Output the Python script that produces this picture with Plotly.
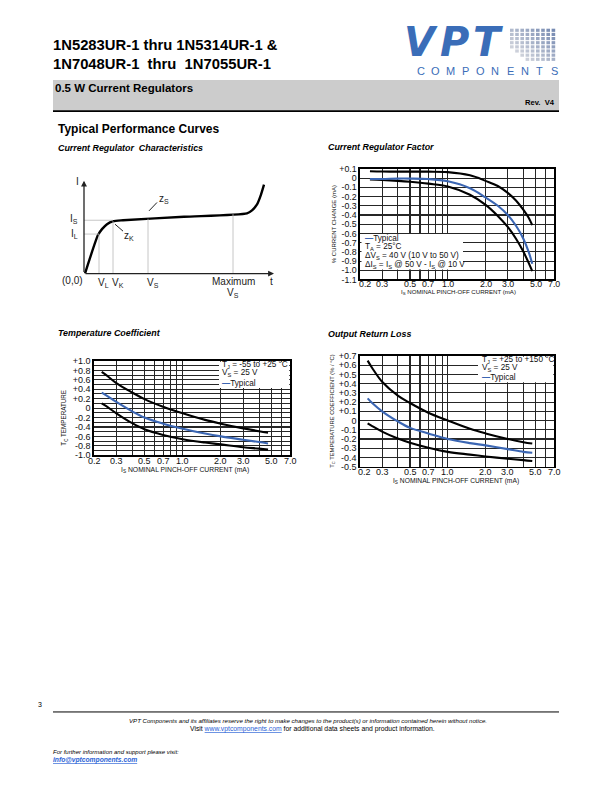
import math
import plotly.graph_objects as go

W, H = 612, 792


def X(p):
    return p / W


def Y(p):
    return 1 - p / H


# ---------------- data ----------------
# Current Regulator Characteristics (schematic I-V curve, diagram units)
char_v = [1, 14, 18, 23, 29, 39, 100, 163, 168, 173, 177, 180]
char_i = [0, 39, 45, 50, 53, 54, 57.5, 61, 64, 70, 80, 90]
char_mark_v = [15, 29, 64, 149]          # V_L, V_K, V_S, Maximum V_S
char_mark_i = [40, 53, 55.5, 60.2]       # curve current reached at those voltages
char_level_i = [54, 40]                  # I_S, I_L
char_level_v = [29, 15]                  # voltage where each level meets the curve

# Current Regulator Factor
crf_is = [0.24, 0.3, 0.4, 0.5, 0.7, 1.0, 1.5, 2.0, 2.5, 3.0, 3.5, 4.0, 4.4, 4.7]
crf_upper = [0.075, 0.072, 0.07, 0.07, 0.07, 0.065, 0.03, -0.03, -0.085, -0.16, -0.245, -0.345, -0.43, -0.51]
crf_typ = [-0.01, -0.01, -0.005, -0.005, -0.01, -0.035, -0.11, -0.21, -0.30, -0.40, -0.52, -0.66, -0.80, -0.93]
crf_lower = [-0.015, -0.02, -0.03, -0.04, -0.06, -0.09, -0.18, -0.29, -0.41, -0.53, -0.66, -0.80, -0.92, -1.01]

# Temperature Coefficient
tc_is = [0.23, 0.25, 0.3, 0.4, 0.5, 0.7, 1.0, 1.5, 2.0, 3.0, 4.0, 4.7]
tc_upper = [0.77, 0.70, 0.53, 0.33, 0.19, 0.03, -0.11, -0.25, -0.33, -0.43, -0.49, -0.52]
tc_typ = [0.33, 0.27, 0.13, -0.07, -0.20, -0.33, -0.44, -0.54, -0.60, -0.67, -0.72, -0.75]
tc_lower = [0.10, 0.04, -0.11, -0.32, -0.45, -0.57, -0.66, -0.73, -0.77, -0.83, -0.86, -0.88]

# Output Return Loss
orl_is = [0.23, 0.25, 0.3, 0.4, 0.5, 0.7, 1.0, 1.5, 2.0, 3.0, 4.0, 4.7]
orl_upper = [0.65, 0.57, 0.42, 0.27, 0.19, 0.085, 0.0, -0.09, -0.14, -0.20, -0.235, -0.25]
orl_typ = [0.24, 0.19, 0.10, -0.01, -0.08, -0.14, -0.20, -0.245, -0.27, -0.31, -0.34, -0.35]
orl_lower = [-0.03, -0.06, -0.12, -0.195, -0.24, -0.295, -0.34, -0.37, -0.39, -0.415, -0.43, -0.44]

# axis ticks
x_major = [0.2, 0.3, 0.5, 0.7, 1.0, 2.0, 3.0, 5.0, 7.0]
x_major_text = ["0.2", "0.3", "0.5", "0.7", "1.0", "2.0", "3.0", "5.0", "7.0"]
x_minor = [0.4, 0.6, 0.8, 0.9, 4.0, 6.0]
crf_ticks = [0.1, 0.0, -0.1, -0.2, -0.3, -0.4, -0.5, -0.6, -0.7, -0.8, -0.9, -1.0, -1.1]
crf_ticktext = ["+0.1", "0", "-0.1", "-0.2", "-0.3", "-0.4", "-0.5", "-0.6", "-0.7", "-0.8", "-0.9", "-1.0", "-1.1"]
tc_ticks = [1.0, 0.8, 0.6, 0.4, 0.2, 0.0, -0.2, -0.4, -0.6, -0.8, -1.0]
tc_ticktext = ["+1.0", "+0.8", "+0.6", "+0.4", "+0.2", "0", "-0.2", "-0.4", "-0.6", "-0.8", "-1.0"]
tc_minor = [0.9, 0.7, 0.5, 0.3, 0.1, -0.1, -0.3, -0.5, -0.7, -0.9]
orl_ticks = [0.7, 0.6, 0.5, 0.4, 0.3, 0.2, 0.1, 0.0, -0.1, -0.2, -0.3, -0.4, -0.5]
orl_ticktext = ["+0.7", "+0.6", "+0.5", "+0.4", "+0.3", "+0.2", "+0.1", "0", "-0.1", "-0.2", "-0.3", "-0.4", "-0.5"]

# ---------------- style ----------------
BLUE = "#3b66b3"
LOGO_BLUE = "#3a6db8"
GRID = "#262626"
SANS = "Liberation Sans, Arial, sans-serif"
TXT = "#111111"
NB = "\u00a0"

fig = go.Figure()

# ---- chart 1: schematic ----
fig.add_trace(go.Scatter(x=char_v, y=char_i, mode="lines", line=dict(color="black", width=2.4, shape="spline", smoothing=0.6),
                         xaxis="x", yaxis="y", hoverinfo="skip"))
for v, i in zip(char_mark_v, char_mark_i):
    fig.add_trace(go.Scatter(x=[v, v], y=[0, i], mode="lines", line=dict(color="#b8b8b8", width=0.8),
                             xaxis="x", yaxis="y", hoverinfo="skip"))
for i, v in zip(char_level_i, char_level_v):
    fig.add_trace(go.Scatter(x=[0, v], y=[i, i], mode="lines", line=dict(color="#b8b8b8", width=0.8),
                             xaxis="x", yaxis="y", hoverinfo="skip"))


# ---- chart 2..4 traces ----
def add_curves(xs, ups, typ, lows, xa, ya):
    for ys, col in ((ups, "black"), (lows, "black"), (typ, BLUE)):
        fig.add_trace(go.Scatter(x=xs, y=ys, mode="lines", line=dict(color=col, width=2.1, shape="spline"),
                                 xaxis=xa, yaxis=ya, hoverinfo="skip"))


add_curves(crf_is, crf_upper, crf_typ, crf_lower, "x2", "y2")
add_curves(tc_is, tc_upper, tc_typ, tc_lower, "x3", "y3")
add_curves(orl_is, orl_upper, orl_typ, orl_lower, "x4", "y4")


def log_xaxis(l, r, anchor):
    # every vertical grid line is drawn as a minor grid line; labels are placed separately
    return dict(domain=[X(l), X(r)], anchor=anchor, type="log",
                range=[math.log10(0.2), math.log10(7.0)],
                tickmode="array", tickvals=[], showticklabels=False, showgrid=False,
                minor=dict(tickvals=sorted(x_major + x_minor), showgrid=True, gridcolor=GRID, gridwidth=1.1, ticks=""),
                showline=True, mirror=True, linecolor="black", linewidth=1.6,
                ticks="", zeroline=False, fixedrange=True)


def lin_yaxis(t, b, anchor, lo, hi, tv, tt, size, minor=None):
    d = dict(domain=[Y(b), Y(t)], anchor=anchor, range=[lo, hi],
             tickmode="array", tickvals=tv, ticktext=tt,
             showgrid=True, gridcolor=GRID, gridwidth=1.1,
             showline=True, mirror=True, linecolor="black", linewidth=1.6,
             ticks="", zeroline=False, tickfont=dict(family=SANS, size=size, color=TXT),
             fixedrange=True)
    if minor:
        d["minor"] = dict(tickvals=minor, showgrid=True, gridcolor=GRID, gridwidth=1.1, ticks="")
    return d


layout = dict(
    width=W, height=H, margin=dict(l=0, r=0, t=0, b=0),
    paper_bgcolor="white", plot_bgcolor="white", showlegend=False,
    xaxis=dict(domain=[X(84), X(274)], range=[0, 190], visible=False, showticklabels=False,
               tickvals=[], fixedrange=True, anchor="y"),
    yaxis=dict(domain=[Y(272), Y(178)], range=[0, 94], visible=False, showticklabels=False,
               tickvals=[], fixedrange=True, anchor="x"),
    xaxis2=log_xaxis(360, 554, "y2"),
    yaxis2=lin_yaxis(166, 278, "x2", -1.1, 0.1, crf_ticks, crf_ticktext, 8.8),
    xaxis3=log_xaxis(94, 290, "y3"),
    yaxis3=lin_yaxis(360.5, 456, "x3", -1.0, 1.0, tc_ticks, tc_ticktext, 9, tc_minor),
    xaxis4=log_xaxis(360, 554, "y4"),
    yaxis4=lin_yaxis(355.5, 467.5, "x4", -0.5, 0.7, orl_ticks, orl_ticktext, 9),
)
fig.update_layout(**layout)

ann = []
shapes = []


def txt(x, y, s, size, xanchor="left", family=SANS, color=TXT, angle=0, yanchor="middle"):
    if xanchor == "left":
        x -= 2
    ann.append(dict(x=X(x), y=Y(y), xref="paper", yref="paper", text=s, showarrow=False,
                    xanchor=xanchor, yanchor=yanchor, textangle=angle,
                    font=dict(family=family, size=size, color=color)))


def rect(x0, y0, x1, y1, fill, layer="above", line=0, lc="black"):
    shapes.append(dict(type="rect", xref="paper", yref="paper", x0=X(x0), x1=X(x1), y0=Y(y1), y1=Y(y0),
                       fillcolor=fill, line=dict(width=line, color=lc), layer=layer))


def hline(x0, x1, y, w=1, c="black"):
    shapes.append(dict(type="line", xref="paper", yref="paper", x0=X(x0), x1=X(x1), y0=Y(y), y1=Y(y),
                       line=dict(width=w, color=c)))


# x tick labels placed through each log axis
def xticklabels(xref, y, size, first_shift=0):
    for k, (v, s) in enumerate(zip(x_major, x_major_text)):
        ann.append(dict(x=math.log10(v), y=Y(y), xref=xref, yref="paper", text=s, showarrow=False,
                        xanchor="center", yanchor="middle", xshift=first_shift if k == 0 else 0,
                        font=dict(family=SANS, size=size, color=TXT)))


xticklabels("x2", 282.5, 8.8, 5)
xticklabels("x3", 461.8, 9)
xticklabels("x4", 473.2, 9, 4)

# ---- header ----
txt(53, 41, "<b>1N5283UR-1 thru 1N5314UR-1 &amp;</b>", 14.8, color="black")
txt(53, 60, "<b>1N7048UR-1" + NB + NB + "thru" + NB + NB + "1N7055UR-1</b>", 14.8, color="black")
rect(53, 76, 559, 107, "#cccccc", layer="below")
hline(53, 559, 107.5, 1.6)
txt(55, 84, "<b>0.5 W Current Regulators</b>", 11.5, color="black")
txt(557, 99, "<b>Rev." + NB + NB + "V4</b>", 7.6, xanchor="right", color="black")

# logo
for ch, cx in zip("VPT", [421, 454, 488]):
    txt(cx, 37.5, "<b><i>%s</i></b>" % ch, 40, xanchor="center", family="DejaVu Sans, sans-serif", color=LOGO_BLUE)
cols, rows = 9, 8
for r in range(rows):
    for c in range(cols):
        t = 0.55 * (c / (cols - 1)) + 0.45 * (1 - r / (rows - 1))
        if c < 3 and r > 4 + c:
            continue
        lo = (226, 226, 228)
        hi = (118, 138, 178)
        col = "rgb(%d,%d,%d)" % tuple(int(lo[k] + (hi[k] - lo[k]) * t) for k in range(3))
        x0 = 510 + c * 5.2
        y0 = 24 + r * 4.2
        rect(x0, y0, x0 + 3.6, y0 + 3.2, col, layer="below")
for k, ch in enumerate("COMPONENTS"):
    txt(421 + k * 14.85, 67, ch, 11, xanchor="center", family=SANS, color=LOGO_BLUE)

txt(58, 126, "<b>Typical Performance Curves</b>", 12, color="black")

# chart titles
txt(58, 145, "<b><i>Current Regulator" + NB + NB + "Characteristics</i></b>", 8.9, color="black")
txt(328, 144, "<b><i>Current Regulator Factor</i></b>", 8.9, color="black")
txt(58, 332, "<b><i>Temperature Coefficient</i></b>", 8.9, color="black")
txt(328, 333, "<b><i>Output Return Loss</i></b>", 8.9, color="black")

# ---- chart 1 decorations ----
for (hx, hy) in ((0, 94), (190, 0)):
    ann.append(dict(x=hx, y=hy, ax=0, ay=0, xref="x", yref="y", axref="x", ayref="y", text="",
                    showarrow=True, arrowhead=2, arrowsize=0.9, arrowwidth=1.3, arrowcolor="#222"))
for (x0, y0, x1, y1) in ((73, 72, 65, 63.5), (39, 43, 31, 50)):
    fig.add_trace(go.Scatter(x=[x0, x1], y=[y0, y1], mode="lines", line=dict(color="#222", width=1),
                             xaxis="x", yaxis="y", hoverinfo="skip"))
C1 = "#222222"
txt(77, 179, "I", 10, xanchor="center", color=C1)
txt(80, 217, "I<sub>S</sub>", 10, xanchor="right", color=C1)
txt(80, 232, "I<sub>L</sub>", 10, xanchor="right", color=C1)
txt(72, 279, "(0,0)", 10, xanchor="center", color=C1)
txt(103.5, 282, "V<sub>L</sub>", 10, xanchor="center", color=C1)
txt(118, 282, "V<sub>K</sub>", 10, xanchor="center", color=C1)
txt(153, 282, "V<sub>S</sub>", 10, xanchor="center", color=C1)
txt(233, 280.5, "Maximum", 10, xanchor="center", color=C1)
txt(233, 292, "V<sub>S</sub>", 10, xanchor="center", color=C1)
txt(271, 280.5, "t", 10, xanchor="center", color=C1)
txt(164, 196, "z<sub>S</sub>", 10, xanchor="center", color=C1)
txt(129, 234, "z<sub>K</sub>", 10, xanchor="center", color=C1)

# ---- axis titles ----
txt(334, 222, "% CURRENT CHANGE (mA)", 6, xanchor="center", angle=-90)
txt(458, 290.5, "I<sub>S</sub> NOMINAL PINCH-OFF CURRENT (mA)", 6.1, xanchor="center")
txt(64, 418, "T<sub>C</sub> TEMPERATURE", 6.3, xanchor="center", angle=-90)
txt(185, 471, "I<sub>S</sub> NOMINAL PINCH-OFF CURRENT (mA)", 6.8, xanchor="center")
txt(333, 411, "T<sub>C</sub> TEMPERATURE COEFFICIENT (% / °C)", 5.8, xanchor="center", angle=-90)
txt(456, 482.5, "I<sub>S</sub> NOMINAL PINCH-OFF CURRENT (mA)", 6.7, xanchor="center")

# ---- in-plot legends ----
DASH = "<span style='color:%s'><b>—</b></span>" % BLUE
rect(361.5, 232, 463, 268, "white")
txt(365, 236, DASH + "Typical", 8.2)
txt(365, 245, "T<sub>A</sub> = 25°C", 8.2)
txt(365, 254, "ΔV<sub>S</sub> = 40 V (10 V to 50 V)", 8.2)
txt(365, 263, "ΔI<sub>S</sub> = I<sub>S</sub> @ 50 V - I<sub>S</sub> @ 10 V", 8.2)

rect(219, 361.3, 289.2, 388, "white")
txt(221.5, 364.5, "T<sub>J</sub> = -55 to +25 °C", 8.2)
txt(221.5, 373, "V<sub>S</sub> = 25 V", 8.2)
txt(221.5, 383, DASH + "Typical", 8.2)

rect(478, 356.3, 553.3, 382, "white")
txt(482, 359.5, "T<sub>J</sub> = +25 to +150 °C", 8.2)
txt(482, 368, "V<sub>S</sub> = 25 V", 8.2)
txt(482, 377, DASH + "Typical", 8.2)

# ---- footer ----
txt(40, 708, "3", 7, xanchor="center", color="black")
hline(53, 559, 716, 1)
txt(308, 724.5, "<i>VPT Components and its affiliates reserve the right to make changes to the product(s) or information contained herein without notice.</i>", 6.1, xanchor="center", color="black")
txt(312, 733, "Visit <span style='color:#2a62d6;text-decoration:underline'>www.vptcomponents.com</span> for additional data sheets and product information.", 6.8, xanchor="center", color="black")
txt(53, 757, "<i>For further information and support please visit:</i>", 6, color="black")
txt(53, 765, "<b><i><span style='color:#2a62d6;text-decoration:underline'>info@vptcomponents.com</span></i></b>", 6.7, color="black")

fig.update_layout(annotations=ann, shapes=shapes)

fig.write_html("out.html", config={"displayModeBar": False, "staticPlot": True},
               post_script="document.body.style.margin='0';document.body.style.overflow='hidden';")
